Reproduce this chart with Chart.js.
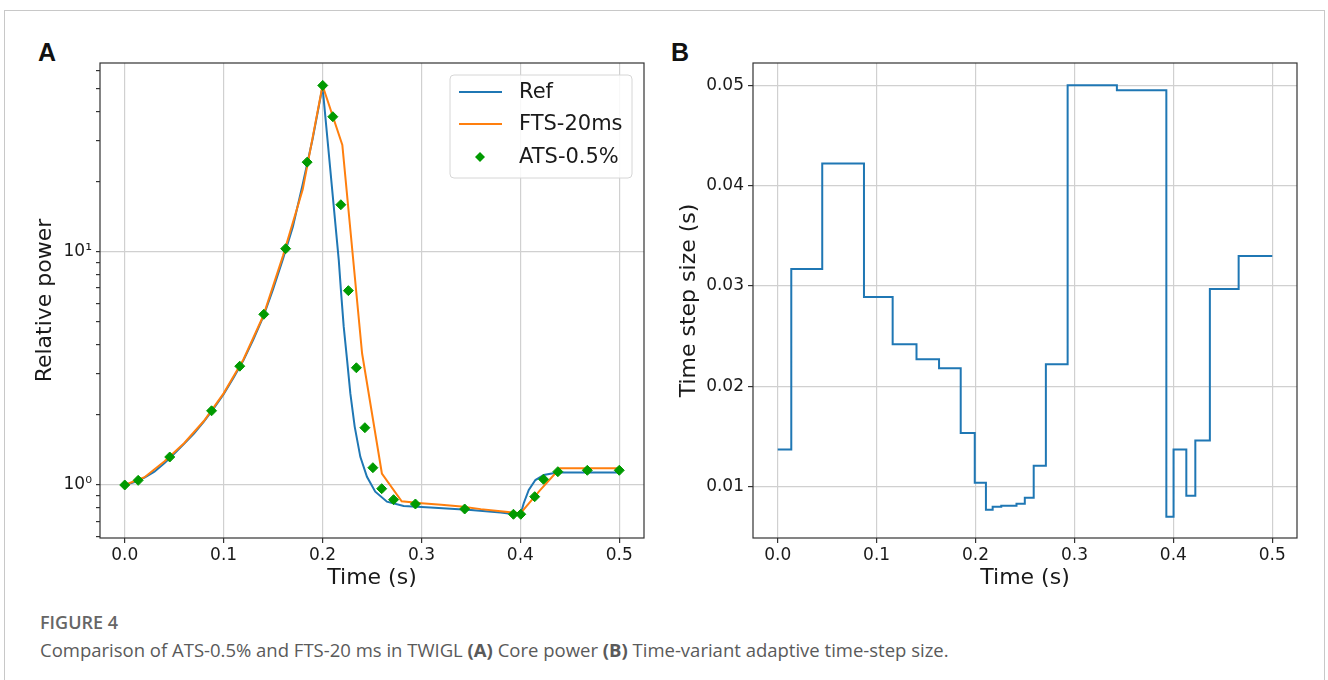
<!DOCTYPE html>
<html>
<head>
<meta charset="utf-8">
<script src="https://cdn.jsdelivr.net/npm/chart.js@4.4.0/dist/chart.umd.min.js"></script>
<style>
  body { margin: 0; background: #fff; width: 1328px; height: 680px; overflow: hidden; position: relative; }
  #frame { position: absolute; left: 4px; top: 10px; width: 1321px; height: 700px; border: 1px solid #c8c8c8; box-sizing: border-box; }
  canvas { position: absolute; top: 0; }
  #chartA { left: 0; }
  #chartB { left: 660px; }
  .tag { position: absolute; top: 38px; font: bold 25px 'Liberation Sans', Arial, sans-serif; color: #111; }
  #cap1 { position: absolute; left: 40px; top: 610px; font: 600 18px 'Open Sans', sans-serif; color: #666; }
  #cap2 { position: absolute; left: 40px; top: 637px; font: 18.5px 'Open Sans', sans-serif; color: #5a5a5a; white-space: nowrap; }
</style>
</head>
<body>
<div id="frame"></div>
<div class="tag" style="left:38px">A</div>
<div class="tag" style="left:671px">B</div>
<canvas id="chartA" width="660" height="600"></canvas>
<canvas id="chartB" width="668" height="600"></canvas>
<div id="cap1">FIGURE 4</div>
<div id="cap2">Comparison of ATS-0.5% and FTS-20 ms in TWIGL <b>(A)</b> Core power <b>(B)</b> Time-variant adaptive time-step size.</div>
<script>
// panel A: relative power
const tRef = [0, 0.01, 0.02, 0.03, 0.04, 0.05, 0.06, 0.07, 0.08, 0.09, 0.10, 0.11, 0.12, 0.13, 0.14, 0.15, 0.16, 0.17, 0.18, 0.19, 0.20,
              0.2164, 0.2188, 0.2214, 0.2248, 0.2281, 0.2325, 0.2382, 0.2449, 0.2533, 0.2651, 0.2820, 0.3091, 0.35, 0.38, 0.40,
              0.4034, 0.4085, 0.4152, 0.4237, 0.4372, 0.50];
const pRef = [1.00, 1.03, 1.075, 1.14, 1.24, 1.36, 1.50, 1.66, 1.87, 2.13, 2.45, 2.88, 3.42, 4.20, 5.25, 6.90, 9.30, 12.8, 19.5, 30.5, 51.0,
              9.2, 6.64, 4.77, 3.44, 2.47, 1.78, 1.32, 1.085, 0.936, 0.848, 0.813, 0.800, 0.782, 0.762, 0.744,
              0.835, 0.952, 1.05, 1.104, 1.13, 1.13];

const tFts = [0, 0.02, 0.04, 0.06, 0.08, 0.10, 0.12, 0.14, 0.16, 0.18, 0.20, 0.22, 0.24,
              0.26, 0.28, 0.30, 0.32, 0.34, 0.36, 0.38, 0.40, 0.42, 0.44, 0.46, 0.48, 0.50];
const pFts = [1.00, 1.08, 1.26, 1.51, 1.88, 2.47, 3.45, 5.30, 9.60, 18.5, 51.6, 28.7, 3.66,
              1.12, 0.852, 0.836, 0.822, 0.808, 0.788, 0.772, 0.756, 0.95, 1.18, 1.18, 1.18, 1.18];

const tAts = [0, 0.0136, 0.0455, 0.0878, 0.1163, 0.1406, 0.1627, 0.1844, 0.2002, 0.2104, 0.2185, 0.2261, 0.2342,
              0.2428, 0.2509, 0.2598, 0.2718, 0.2939, 0.3437, 0.3930, 0.4004, 0.4145, 0.4234, 0.4379, 0.4677, 0.5];
const pAts = [1.0, 1.047, 1.318, 2.08, 3.23, 5.39, 10.3, 24.2, 51.6, 37.9, 15.9, 6.81, 3.18,
              1.76, 1.186, 0.964, 0.865, 0.829, 0.789, 0.749, 0.749, 0.891, 1.058, 1.14, 1.156, 1.156];

// panel B: adaptive time-step size (value holds until the next time)
const tStep = [0, 0.0137, 0.0450, 0.0872, 0.1162, 0.1403, 0.1631, 0.1850, 0.1992, 0.2105, 0.2173, 0.2260, 0.2414,
               0.2498, 0.2588, 0.2711, 0.2931, 0.3429, 0.3929, 0.4002, 0.4131, 0.4222, 0.4369, 0.4660, 0.5];
const dtStep = [0.0137, 0.0317, 0.0422, 0.0289, 0.0242, 0.0227, 0.0218, 0.01535, 0.0104, 0.0077, 0.0080, 0.0081, 0.0083,
                0.0089, 0.0121, 0.0222, 0.0500, 0.0495, 0.0070, 0.0137, 0.0091, 0.0146, 0.0297, 0.0330, 0.0330];

const xTicks = [0, 0.1, 0.2, 0.3, 0.4, 0.5];
const yTicksA = [1, 10];
const yLabelsA = ['10\u2070', '10\u00b9'];
const yMinorA = [0.6, 0.7, 0.8, 0.9, 2, 3, 4, 5, 6, 7, 8, 9, 20, 30, 40, 50, 60];
const yTicksB = [0.01, 0.02, 0.03, 0.04, 0.05];

const seriesNames = ['Ref', 'FTS-20ms', 'ATS-0.5%'];
const BLUE = '#1f77b4', ORANGE = '#ff7f0e', GREEN = '#009a00';
const FONT = 'DejaVu Sans';

function pts(xs, ys) { return xs.map((x, i) => ({ x: x, y: ys[i] })); }

// matplotlib-like box around the axes
const framePlugin = {
  id: 'frame',
  afterDraw(chart) {
    const { ctx, chartArea: a } = chart;
    ctx.save();
    ctx.strokeStyle = '#333';
    ctx.lineWidth = 1.2;
    ctx.strokeRect(a.left, a.top, a.right - a.left, a.bottom - a.top);
    ctx.restore();
  }
};

// legend drawn inside the axes, upper right
const legendPlugin = {
  id: 'insideLegend',
  afterDraw(chart) {
    const { ctx, chartArea: a } = chart;
    const w = 182, h = 103;
    const x0 = a.right - 12 - w, y0 = a.top + 12;
    ctx.save();
    ctx.beginPath();
    ctx.roundRect(x0, y0, w, h, 4);
    ctx.fillStyle = 'rgba(255,255,255,0.85)';
    ctx.fill();
    ctx.strokeStyle = '#d6d6d6';
    ctx.lineWidth = 1;
    ctx.stroke();
    ctx.font = '21px ' + FONT;
    ctx.textBaseline = 'middle';
    const rows = [17, 49, 82];
    chart.data.datasets.forEach((ds, i) => {
      const y = y0 + rows[i];
      if (ds.showLine === false) {
        ctx.beginPath();
        ctx.moveTo(x0 + 30, y - 5); ctx.lineTo(x0 + 35, y); ctx.lineTo(x0 + 30, y + 5); ctx.lineTo(x0 + 25, y);
        ctx.closePath();
        ctx.fillStyle = ds.backgroundColor;
        ctx.fill();
      } else {
        ctx.beginPath();
        ctx.moveTo(x0 + 9, y); ctx.lineTo(x0 + 52, y);
        ctx.strokeStyle = ds.borderColor;
        ctx.lineWidth = 2;
        ctx.stroke();
      }
      ctx.fillStyle = '#1a1a1a';
      ctx.fillText(ds.label, x0 + 69, y + 1);
    });
    ctx.restore();
  }
};

function xScale() {
  return {
    type: 'linear',
    min: -0.025,
    max: 0.525,
    afterBuildTicks: s => { s.ticks = xTicks.map(v => ({ value: v })); },
    afterFit: s => { s.height = 62; },
    grid: { color: '#d0d0d0', lineWidth: 1.2, tickColor: '#333', tickLength: 5 },
    border: { display: false },
    ticks: { autoSkip: false, maxRotation: 0, padding: 2, color: '#1a1a1a', font: { family: FONT, size: 17 },
             callback: v => v.toFixed(1) },
    title: { display: true, text: 'Time (s)', color: '#1a1a1a', font: { family: FONT, size: 22 }, padding: { top: 0, bottom: 9 } }
  };
}

new Chart(document.getElementById('chartA'), {
  type: 'line',
  data: {
    datasets: [
      { label: seriesNames[0], data: pts(tRef, pRef), borderColor: BLUE, borderWidth: 2, pointRadius: 0, tension: 0, order: 3 },
      { label: seriesNames[1], data: pts(tFts, pFts), borderColor: ORANGE, borderWidth: 2, pointRadius: 0, tension: 0, order: 2 },
      { label: seriesNames[2], data: pts(tAts, pAts), showLine: false, pointStyle: 'rectRot', pointRadius: 5,
        backgroundColor: GREEN, borderColor: GREEN, pointBorderWidth: 1, order: 1 }
    ]
  },
  options: {
    responsive: false,
    animation: false,
    layout: { padding: { top: 63, right: 16, left: 0, bottom: 0 } },
    plugins: { legend: { display: false }, tooltip: { enabled: false } },
    scales: {
      x: xScale(),
      y: {
        type: 'logarithmic',
        min: 0.5926,
        max: 64.4,
        afterBuildTicks: s => {
          s.ticks = yMinorA.map(v => ({ value: v, major: false }))
            .concat(yTicksA.map(v => ({ value: v, major: true })))
            .sort((p, q) => p.value - q.value);
        },
        afterFit: s => { s.width = 100; },
        grid: {
          color: c => (c.tick && c.tick.major) ? '#d0d0d0' : 'rgba(0,0,0,0)',
          lineWidth: 1.2, tickColor: '#333', tickLength: 4
        },
        border: { display: false },
        ticks: {
          autoSkip: false, padding: 4, color: '#1a1a1a', font: { family: FONT, size: 17 },
          callback: v => { const i = yTicksA.indexOf(v); return i >= 0 ? yLabelsA[i] : ''; }
        },
        title: { display: true, text: 'Relative power', color: '#1a1a1a', font: { family: FONT, size: 22 }, padding: { top: 32, bottom: 0 } }
      }
    }
  },
  plugins: [framePlugin, legendPlugin]
});

new Chart(document.getElementById('chartB'), {
  type: 'line',
  data: {
    datasets: [
      { label: 'dt', data: pts(tStep, dtStep), borderColor: BLUE, borderWidth: 2, pointRadius: 0, stepped: 'before' }
    ]
  },
  options: {
    responsive: false,
    animation: false,
    layout: { padding: { top: 63, right: 31, left: 0, bottom: 0 } },
    plugins: { legend: { display: false }, tooltip: { enabled: false } },
    scales: {
      x: xScale(),
      y: {
        type: 'linear',
        min: 0.00489,
        max: 0.05222,
        afterBuildTicks: s => { s.ticks = yTicksB.map(v => ({ value: v })); },
        afterFit: s => { s.width = 93; },
        grid: { color: '#d0d0d0', lineWidth: 1.2, tickColor: '#333', tickLength: 5 },
        border: { display: false },
        ticks: { autoSkip: false, padding: 4, color: '#1a1a1a', font: { family: FONT, size: 17 },
                 callback: v => v.toFixed(2) },
        title: { display: true, text: 'Time step size (s)', color: '#1a1a1a', font: { family: FONT, size: 22 }, padding: { top: 16, bottom: 0 } }
      }
    }
  },
  plugins: [framePlugin]
});
</script>
</body>
</html>
